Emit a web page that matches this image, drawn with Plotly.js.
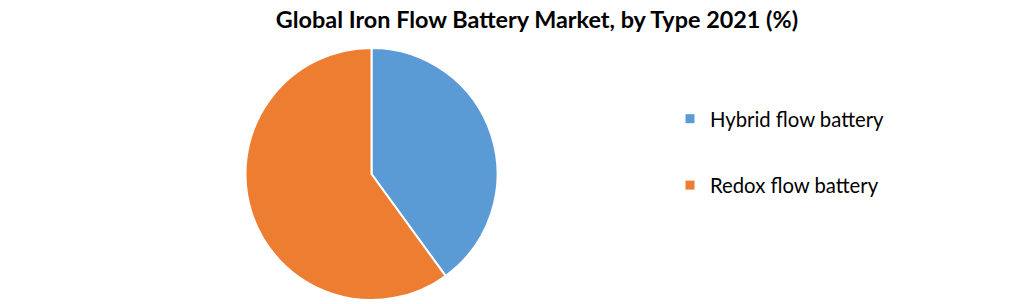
<!DOCTYPE html>
<html>
<head>
<meta charset="utf-8">
<script src="https://cdn.plot.ly/plotly-3.0.1.min.js"></script>
<style>html,body{margin:0;padding:0;background:#fff;}#chart{width:1021px;height:304px;}</style>
</head>
<body>
<div id="chart"></div>
<script>
const chartTitle = "Global Iron Flow Battery Market, by Type 2021 (%)";
const categories = ["Hybrid flow battery", "Redox flow battery"];
const shares = [40, 60];
const colors = ["#5B9BD5", "#ED7D31"];

const W = 1021, H = 304;
const FONT = "Lato, 'Open Sans', sans-serif";

const traces = [{
  type: "pie",
  labels: categories,
  values: shares,
  sort: false,
  direction: "clockwise",
  rotation: 0,
  textinfo: "none",
  hoverinfo: "label+percent",
  showlegend: false,
  marker: {colors: colors, line: {color: "#ffffff", width: 2}},
  domain: {x: [245 / W, 498 / W], y: [4 / H, 256 / H]}
}];

categories.forEach((c, i) => {
  traces.push({
    type: "scatter",
    x: [null], y: [null],
    mode: "markers",
    name: c,
    legendgroup: "g" + i,
    marker: {symbol: "square", size: 9, color: colors[i]},
    hoverinfo: "skip"
  });
});

const layout = {
  width: W, height: H,
  margin: {l: 0, r: 0, t: 0, b: 0},
  paper_bgcolor: "#ffffff",
  plot_bgcolor: "#ffffff",
  font: {family: FONT, color: "#000000"},
  title: {
    text: "<b>" + chartTitle + "</b>",
    font: {family: FONT, size: 23.4, color: "#000000"},
    x: 537 / W, xanchor: "center", xref: "paper",
    y: 1 - 20 / H, yanchor: "middle", yref: "container"
  },
  xaxis: {visible: false, domain: [0.99, 1]},
  yaxis: {visible: false, domain: [0.99, 1]},
  showlegend: true,
  legend: {
    x: 670 / W, xanchor: "left",
    y: 1 - 99 / H, yanchor: "top",
    font: {family: FONT, size: 20.3, color: "#000000"},
    tracegroupgap: 37,
    bgcolor: "rgba(0,0,0,0)"
  }
};

Plotly.newPlot("chart", traces, layout, {displayModeBar: false, staticPlot: true});
</script>
</body>
</html>
